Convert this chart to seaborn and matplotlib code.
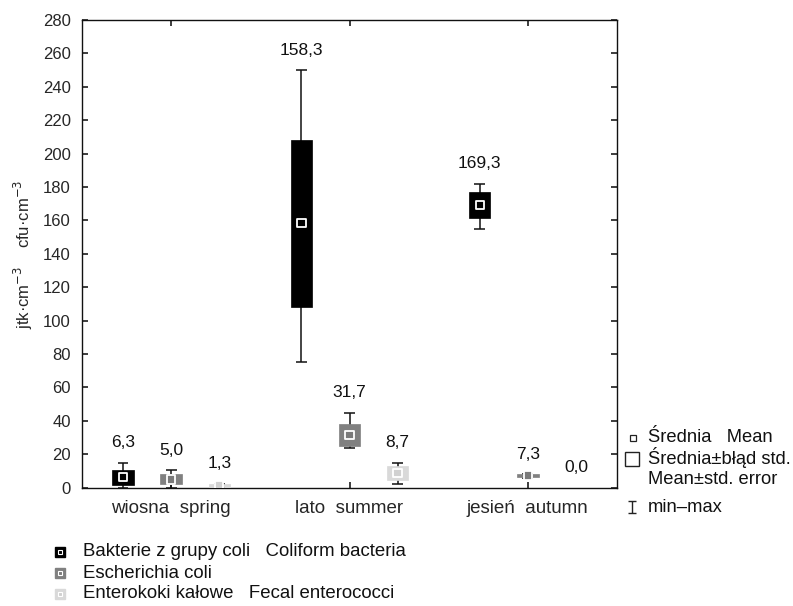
import numpy as np
import pandas as pd
import matplotlib
matplotlib.use("Agg")
import matplotlib.pyplot as plt
from matplotlib.path import Path
import seaborn as sns

# ---------------- data ----------------
seasons = ["wiosna  spring", "lato  summer", "jesień  autumn"]
groups = ["Bakterie z grupy coli   Coliform bacteria",
          "Escherichia coli",
          "Enterokoki kałowe   Fecal enterococci"]

mean_coli = [6.3, 158.3, 169.3]
se_coli = [4.5, 50.0, 7.8]
min_coli = [0.0, 75.0, 155.0]
max_coli = [15.0, 250.0, 182.0]

mean_ecoli = [5.0, 31.7, 7.3]
se_ecoli = [3.0, 6.7, 0.8]
min_ecoli = [0.0, 24.0, 6.0]
max_ecoli = [10.5, 45.0, 8.0]

mean_ent = [1.3, 8.7, 0.0]
se_ent = [0.9, 4.0, 0.0]
min_ent = [0.0, 2.0, 0.0]
max_ent = [2.5, 15.0, 0.0]

yticks = list(range(0, 281, 20))

stat_labels = ["Średnia   Mean", "Średnia±błąd std.", "Mean±std. error", "min–max"]

# ---------------- style ----------------
sns.set_theme(style="white")
plt.rcParams["font.family"] = ["Liberation Sans", "DejaVu Sans"]

box_colors = ["#000000", "#808080", "#d9d9d9"]
mean_colors = ["#000000", "#7a7a7a", "#d0d0d0"]
offsets = [-0.27, 0.0, 0.27]
box_w = 0.12
cap_w = 0.06

rows = []
for gi, (g, m, s, lo, hi) in enumerate(zip(
        groups,
        [mean_coli, mean_ecoli, mean_ent],
        [se_coli, se_ecoli, se_ent],
        [min_coli, min_ecoli, min_ent],
        [max_coli, max_ecoli, max_ent])):
    for si, season in enumerate(seasons):
        rows.append(dict(season=season, group=g, gi=gi, si=si,
                         x=si + offsets[gi], mean=m[si], se=s[si],
                         vmin=lo[si], vmax=hi[si]))
df = pd.DataFrame(rows)

W, H = 793, 606
fig = plt.figure(figsize=(W / 100, H / 100), dpi=100)
ax = fig.add_axes([82 / W, (H - 487.7) / H, 535 / W, 467.7 / H])

for _, r in df.iterrows():
    gi = int(r.gi)
    if r.vmax > 0:
        ax.vlines(r.x, r.vmin, r.vmax, color="#111111", lw=1.1, zorder=2)
        ax.hlines([r.vmin, r.vmax], r.x - cap_w / 2, r.x + cap_w / 2,
                  color="#111111", lw=1.1, zorder=2)
        ax.bar(r.x, 2 * r.se, bottom=r["mean"] - r.se, width=box_w,
               color=box_colors[gi], edgecolor=box_colors[gi], lw=0.5, zorder=3)
    ax.annotate(f"{r['mean']:.1f}".replace(".", ","),
                xy=(r.x, r.vmax), xytext=(0, 9), textcoords="offset points",
                ha="center", va="bottom", fontsize=12.5, color="#111111")

plot_df = df[df["mean"] > 0]
sns.scatterplot(data=plot_df, x="x", y="mean", hue="group",
                palette=dict(zip(groups, mean_colors)), marker="s", s=36,
                edgecolor="white", linewidth=1.3, legend=False, ax=ax, zorder=5)

ax.set_xlim(-0.5, 2.5)
ax.set_ylim(0, 280)
ax.set_yticks(yticks)
ax.set_yticklabels([str(t) for t in yticks], fontsize=12)
ax.set_xticks(range(len(seasons)))
ax.set_xticklabels(seasons, fontsize=13.5)
ax.tick_params(axis="x", direction="in", length=4, top=True, bottom=True, pad=9)
ax.tick_params(axis="y", direction="in", length=4, left=True, right=True, pad=8)
ax.set_xlabel("")
ax.set_ylabel("jtk·cm$^{-3}$    cfu·cm$^{-3}$", fontsize=12, labelpad=6)
for sp in ax.spines.values():
    sp.set_color("#111111")
    sp.set_linewidth(1.0)

# ---------------- overlay for legends (pixel coords) ----------------
ov = fig.add_axes([0, 0, 1, 1])
ov.set_xlim(0, W)
ov.set_ylim(H, 0)
ov.axis("off")

# right legend
fs_r = 13.2
ov.plot([633], [438], ls="none", marker="s", markersize=5,
        markerfacecolor="white", markeredgecolor="#222222", markeredgewidth=0.9)
ov.plot([632], [459], ls="none", marker="s", markersize=9.5,
        markerfacecolor="white", markeredgecolor="#222222", markeredgewidth=1.0)
ibeam = Path([(-0.4, 0.5), (0.4, 0.5), (0, 0.5), (0, -0.5), (-0.4, -0.5), (0.4, -0.5)],
             [Path.MOVETO, Path.LINETO, Path.MOVETO, Path.LINETO,
              Path.MOVETO, Path.LINETO])
ov.plot([632], [507], ls="none", marker=ibeam, markersize=8,
        markerfacecolor="none", markeredgecolor="#222222", markeredgewidth=1.0)
for lab, yy in zip(stat_labels, [438, 458, 480, 507]):
    ov.text(648, yy, lab, fontsize=fs_r, va="center", ha="left", color="#111111")

# bottom legend
fs_b = 13.4
for gi, (g, yy) in enumerate(zip(groups, [552, 573, 594])):
    ov.plot([60], [yy], ls="none", marker="s", markersize=7.5,
            markerfacecolor=box_colors[gi], markeredgecolor=box_colors[gi])
    ov.plot([60], [yy], ls="none", marker="s", markersize=3.2,
            markerfacecolor=mean_colors[gi], markeredgecolor="white",
            markeredgewidth=0.8)
    ov.text(83, yy, g, fontsize=fs_b, va="center", ha="left", color="#111111")

fig.savefig("out.png", dpi=100)
